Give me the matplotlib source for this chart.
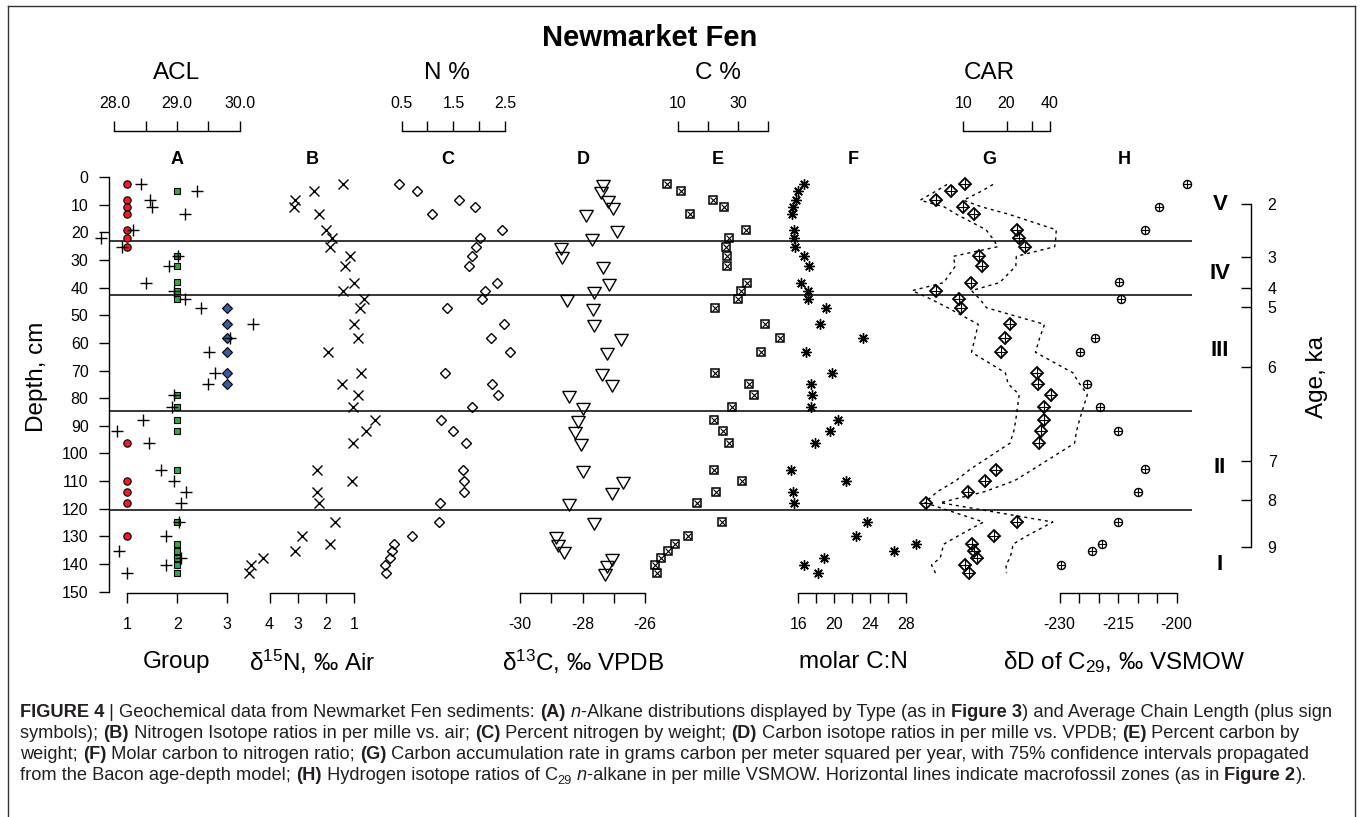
import matplotlib
matplotlib.use('Agg')
import matplotlib.pyplot as plt
import numpy as np
from matplotlib.ticker import NullLocator
from matplotlib.lines import Line2D

plt.rcParams['font.family'] = ['Liberation Sans', 'DejaVu Sans']
plt.rcParams['mathtext.fontset'] = 'custom'
plt.rcParams['mathtext.rm'] = 'Liberation Sans'
plt.rcParams['mathtext.it'] = 'Liberation Sans:italic'
plt.rcParams['mathtext.bf'] = 'Liberation Sans:bold'

# ---------------- data ----------------
depth = [2.7, 5.2, 8.4, 10.8, 13.4, 19.1, 22.2, 25.2, 28.7, 32.2, 38.2, 41.1, 44.1, 47.3,
         53.3, 58.2, 63.4, 70.8, 74.8, 78.7, 83.3, 87.8, 91.8, 96.3, 105.8, 109.8, 113.8,
         117.8, 124.8, 129.8, 132.8, 135.3, 137.8, 140.3, 143.3]

group1_depth = [2.6, 8.3, 10.7, 13.3, 19.0, 22.2, 25.2, 96.2, 109.8, 113.8, 117.8, 129.8]
group2_depth = [5.1, 28.7, 32.1, 38.0, 41.1, 44.0, 78.7, 83.3, 87.8, 91.8, 105.9, 124.8,
                132.9, 135.3, 137.7, 140.3, 143.3]
group3_depth = [47.3, 53.3, 58.3, 63.3, 70.8, 74.9]

acl_depth = [2.65, 5.1, 8.3, 10.7, 13.3, 19.0, 22.2, 25.2, 28.7, 32.1, 38.2, 41.1, 44.1,
             47.3, 53.3, 58.3, 63.3, 70.8, 74.9, 78.7, 83.3, 87.8, 91.8, 96.2, 105.9, 109.8,
             113.8, 117.8, 124.8, 129.8, 135.3, 137.7, 140.3, 143.3]
acl = [28.42, 29.32, 28.57, 28.60, 29.13, 28.29, 27.78, 28.13, 29.02, 28.88, 28.50, 28.95,
       29.13, 29.38, 30.21, 29.85, 29.51, 29.61, 29.49, 28.95, 28.92, 28.46, 28.04, 28.55,
       28.75, 28.96, 29.15, 29.06, 29.03, 28.82, 28.07, 29.07, 28.83, 28.21]

d15n = [1.42, 2.44, 3.10, 3.12, 2.25, 1.99, 1.78, 1.87, 1.17, 1.33, 1.00, 1.42, 0.67, 0.81,
        1.02, 0.86, 1.93, 0.78, 1.45, 0.86, 1.05, 0.29, 0.58, 1.05, 2.34, 1.07, 2.32, 2.25,
        1.68, 2.87, 1.87, 3.11, 4.23, 4.64, 4.72]

n_pct = [0.45, 0.80, 1.60, 1.92, 1.08, 2.44, 2.02, 1.93, 1.85, 1.79, 2.33, 2.11, 2.04, 1.38,
         2.47, 2.22, 2.58, 1.34, 2.24, 2.35, 1.86, 1.26, 1.50, 1.74, 1.69, 1.70, 1.70, 1.24,
         1.23, 0.70, 0.36, 0.32, 0.27, 0.18, 0.21]

d13c = [-27.34, -27.40, -27.18, -27.03, -27.90, -26.88, -27.68, -28.70, -28.67, -27.35,
        -27.16, -27.64, -28.50, -27.67, -27.62, -26.78, -27.23, -27.37, -27.04, -28.43,
        -28.00, -28.13, -28.24, -28.06, -27.97, -26.69, -27.04, -28.43, -27.64, -28.85,
        -28.77, -28.60, -27.06, -27.21, -27.28]

c_pct = [6.5, 11.0, 21.7, 25.2, 14.2, 32.5, 26.9, 25.9, 26.3, 26.2, 32.9, 30.9, 30.0, 22.5,
         39.0, 43.9, 37.4, 22.5, 33.6, 35.4, 28.0, 22.1, 25.1, 26.9, 21.9, 31.2, 22.7, 16.5,
         24.7, 13.4, 9.1, 6.9, 4.5, 2.6, 3.1]

cn_ratio = [16.67, 16.0, 15.74, 15.44, 15.26, 15.55, 15.52, 15.66, 16.67, 17.20, 16.30, 17.12,
            17.12, 19.06, 18.39, 23.20, 16.86, 19.73, 17.45, 17.56, 17.38, 20.47, 19.50, 17.87,
            15.15, 21.33, 15.44, 15.55, 23.64, 22.41, 29.12, 26.70, 18.91, 16.67, 18.17]

car = [10.3, 8.2, 6.5, 10.0, 11.9, 23.8, 24.6, 26.9, 12.9, 13.4, 11.3, 6.4, 9.3, 9.6, 21.1,
       19.6, 18.2, 32.4, 33.0, 40.7, 36.2, 36.2, 34.6, 33.9, 17.0, 14.1, 10.7, 5.5, 23.6, 16.4,
       11.4, 11.8, 12.5, 10.3, 10.9]
car_low = [7.7, 6.4, 5.0, 7.35, 8.9, 14.4, 16.0, 17.4, 8.5, 8.8, 7.3, 4.4, 5.9, 7.8, 12.7,
           12.05, 11.4, 19.6, 20.5, 24.5, 23.8, 23.2, 22.5, 21.1, 11.1, 8.9, 6.6, 5.4, 13.8,
           9.2, 7.3, 7.1, 6.9, 6.0, 6.4]
car_high = [16.1, 13.3, 10.0, 13.4, 20.5, 44.4, 44.0, 43.3, 23.4, 23.2, 17.9, 11.4, 13.0, 14.5,
            36.8, 34.0, 31.8, 57.9, 64.5, 73.1, 68.6, 64.5, 61.5, 59.5, 30.4, 22.8, 14.1, 6.9,
            42.0, 27.7, 22.2, 21.8, 21.1, 19.8, 20.0]

dd_depth = [2.65, 10.8, 19.2, 38.1, 44.1, 58.1, 63.3, 74.8, 83.3, 91.8, 105.7, 113.8, 124.8,
            132.7, 135.3, 140.4]
dd_c29 = [-197.4, -204.5, -208.1, -214.8, -214.2, -221.0, -224.9, -222.9, -219.7, -215.1,
          -208.1, -209.8, -215.1, -219.2, -221.8, -229.7]

zone_depths = [23.0, 42.7, 84.6, 120.4]
zone_names = ['V', 'IV', 'III', 'II', 'I']
zone_label_depths = [10.0, 34.8, 62.8, 105.0, 140.3]

age_ticks = ['2', '3', '4', '5', '6', '7', '8', '9']
age_tick_depths = [9.9, 28.8, 40.0, 46.9, 68.6, 102.7, 116.7, 133.7]

panel_letters = ['A', 'B', 'C', 'D', 'E', 'F', 'G', 'H']

# ---------------- figure ----------------
W, H = 1360, 817
fig = plt.figure(figsize=(W / 100, H / 100), dpi=100)


def fx(px):
    return px / W


def fy(py):
    return 1 - py / H


TICK_FS = 11.5
LAB_FS = 17.5
y_top, y_bot = 177.0, 591.7
edges = np.linspace(109, 1192, 9)


def make_ax(i):
    x0, x1 = edges[i], edges[i + 1]
    ax = fig.add_axes([fx(x0), fy(y_bot), (x1 - x0) / W, (y_bot - y_top) / H])
    ax.set_ylim(150, 0)
    ax.patch.set_visible(False)
    for s in ax.spines.values():
        s.set_visible(False)
        s.set_linewidth(1.0)
    ax.tick_params(left=False, labelleft=False, bottom=False, labelbottom=False,
                   top=False, labeltop=False, right=False, labelright=False)
    return ax


def bottom_axis(ax, lo, hi, ticks, labels):
    ax.spines['bottom'].set_visible(True)
    ax.spines['bottom'].set_position(('outward', 1.2))
    ax.spines['bottom'].set_bounds(lo, hi)
    ax.set_xticks(ticks, labels)
    ax.xaxis.set_minor_locator(NullLocator())
    ax.tick_params(axis='x', which='major', bottom=True, labelbottom=True, top=False,
                   labeltop=False, direction='out', length=7.2, width=1.0, pad=10,
                   labelsize=TICK_FS)


def top_axis(ax, lo, hi, ticks, labels):
    ax.spines['top'].set_visible(True)
    ax.spines['top'].set_position(('outward', 33.3))
    ax.spines['top'].set_bounds(lo, hi)
    ax.set_xticks(ticks, labels)
    ax.xaxis.set_minor_locator(NullLocator())
    ax.tick_params(axis='x', which='major', top=True, labeltop=True, bottom=False,
                   labelbottom=False, direction='out', length=7.2, width=1.0, pad=7.3,
                   labelsize=TICK_FS)


axes = [make_ax(i) for i in range(8)]
for ax in axes:
    for d in zone_depths:
        ax.axhline(d, color='black', lw=1.1, zorder=1)

# ---- Panel A
axA = axes[0]
axA2 = make_ax(0)
axA2.plot(acl, acl_depth, ls='none', marker='+', ms=8.6, mew=1.0, color='black',
          clip_on=False, zorder=2)
top_axis(axA2, 28, 30, [28, 28.5, 29, 29.5, 30], ['28.0', '', '29.0', '', '30.0'])
axA2.set_xlim(27.915, 30.075)

axA.plot([1] * len(group1_depth), group1_depth, ls='none', marker='o', ms=5.3,
         mfc='#ee1c25', mec='black', mew=0.8, clip_on=False, zorder=4)
axA.plot([2] * len(group2_depth), group2_depth, ls='none', marker='s', ms=4.9,
         mfc='#35a64a', mec='black', mew=0.8, clip_on=False, zorder=4)
axA.plot([3] * len(group3_depth), group3_depth, ls='none', marker='D', ms=4.6,
         mfc='#3a5ba0', mec='black', mew=0.8, clip_on=False, zorder=4)
bottom_axis(axA, 1, 3, [1, 2, 3], ['1', '2', '3'])
axA.set_xlim(0.64, 3.34)
axA.spines['left'].set_visible(True)
axA.spines['left'].set_bounds(0, 150)
axA.set_yticks(range(0, 151, 10))
axA.tick_params(axis='y', left=True, labelleft=True, direction='out', length=7.2,
                width=1.0, pad=7.5, labelsize=TICK_FS)
axA.set_ylim(150, 0)

# ---- Panel B
axB = axes[1]
axB.plot(d15n, depth, ls='none', marker='x', ms=6.7, mew=1.0, color='black',
         clip_on=False, zorder=3)
bottom_axis(axB, 1, 4, [4, 3, 2, 1], ['4', '3', '2', '1'])
axB.set_xlim(4.89, 0.107)

# ---- Panel C
axC = axes[2]
axC.plot(n_pct, depth, ls='none', marker='D', ms=5.4, mfc='none', mec='black', mew=1.0,
         clip_on=False, zorder=3)
top_axis(axC, 0.5, 2.5, [0.5, 1.0, 1.5, 2.0, 2.5], ['0.5', '', '1.5', '', '2.5'])
axC.set_xlim(0.081, 2.687)

# ---- Panel D
axD = axes[3]
tri = [(-1, 0.6), (1, 0.6), (0, -1.13), (-1, 0.6)]
axD.plot(d13c, depth, ls='none', marker=tri, ms=11, mfc='none', mec='black', mew=1.0,
         clip_on=False, zorder=3)
bottom_axis(axD, -30, -26, [-30, -29, -28, -27, -26], ['-30', '', '-28', '', '-26'])
axD.set_xlim(-30.16, -25.82)

# ---- Panel E
axE = axes[4]
axE.plot(c_pct, depth, ls='none', marker='s', ms=6.0, mfc='none', mec='black', mew=1.1,
         clip_on=False, zorder=3)
axE.plot(c_pct, depth, ls='none', marker='x', ms=4.6, mew=0.8, color='black',
         clip_on=False, zorder=3)
top_axis(axE, 10, 40, [10, 20, 30, 40], ['10', '', '30', ''])
axE.set_xlim(1.06, 45.76)

# ---- Panel F
axF = axes[5]
axF.plot(cn_ratio, depth, ls='none', marker=(8, 2, 0), ms=7.5, mew=1.0, color='black',
         clip_on=False, zorder=3)
bottom_axis(axF, 16, 28, [16, 18, 20, 22, 24, 26, 28], ['16', '', '20', '', '24', '', '28'])
axF.set_xlim(14.63, 29.71)

# ---- Panel G
axG = axes[6]
axG.set_xscale('log')
axG.plot(car_low, depth, ls=(0, (2.2, 2.8)), lw=1.0, color='black', clip_on=False, zorder=2)
axG.plot(car_high, depth, ls=(0, (2.2, 2.8)), lw=1.0, color='black', clip_on=False, zorder=2)
axG.plot(car, depth, ls='none', marker='D', ms=5.8, mfc='none', mec='black', mew=1.3,
         clip_on=False, zorder=3)
axG.plot(car, depth, ls='none', marker='+', ms=8.0, mew=0.8, color='black',
         clip_on=False, zorder=3)
top_axis(axG, 10, 40, [10, 20, 30, 40], ['10', '20', '', '40'])
axG.set_xlim(5.09, 44.65)

# ---- Panel H
axH = axes[7]
axH.plot(dd_c29, dd_depth, ls='none', marker='o', ms=5.8, mfc='none', mec='black', mew=1.0,
         clip_on=False, zorder=3)
axH.plot(dd_c29, dd_depth, ls='none', marker='+', ms=5.8, mew=0.8, color='black',
         clip_on=False, zorder=3)
bottom_axis(axH, -230, -200, [-230, -225, -220, -215, -210, -205, -200],
            ['-230', '', '', '-215', '', '', '-200'])
axH.set_xlim(-230.77, -196.06)

for ax in axes + [axA2]:
    ax.set_ylim(150, 0)

# ---- Age axis (right)
axR = fig.add_axes([fx(1192), fy(y_bot), (1251 - 1192) / W, (y_bot - y_top) / H])
axR.set_ylim(150, 0)
axR.patch.set_visible(False)
for k, s in axR.spines.items():
    s.set_visible(k == 'right')
    s.set_linewidth(1.0)
axR.spines['right'].set_bounds(age_tick_depths[0], age_tick_depths[-1])
axR.set_xticks([])
axR.yaxis.set_ticks_position('right')
axR.set_yticks(age_tick_depths, age_ticks)
axR.tick_params(axis='y', right=True, labelright=True, left=False, labelleft=False,
                direction='in', length=7.2, width=1.0, pad=12, labelsize=TICK_FS)

# zone labels
for name, d in zip(zone_names, zone_label_depths):
    fig.text(fx(1220), fy(y_top + d * (y_bot - y_top) / 150), name, fontsize=16,
             fontweight='bold', ha='center', va='center')

# ---- Texts
centers = (edges[:-1] + edges[1:]) / 2
for c, letter in zip(centers, panel_letters):
    fig.text(fx(c), fy(160), letter, fontsize=13, fontweight='bold', ha='center', va='center')

fig.text(fx(650), fy(37.8), 'Newmarket Fen', fontsize=21, fontweight='bold',
         ha='center', va='center')
for i, lab in [(0, 'ACL'), (2, 'N %'), (4, 'C %'), (6, 'CAR')]:
    fig.text(fx(centers[i]), fy(72.8), lab, fontsize=LAB_FS, ha='center', va='center')

bottom_labels = [(0, 'Group'),
                 (1, r'δ$^{\mathregular{15}}$N, ‰ Air'),
                 (3, r'δ$^{\mathregular{13}}$C, ‰ VPDB'),
                 (5, 'molar C:N'),
                 (7, r'δD of C$_{\mathregular{29}}$, ‰ VSMOW')]
for i, lab in bottom_labels:
    fig.text(fx(centers[i]), fy(661.7), lab, fontsize=LAB_FS, ha='center', va='center')

fig.text(fx(37.5), fy(376.7), 'Depth, cm', fontsize=LAB_FS, rotation=90,
         ha='center', va='center')
fig.text(fx(1316.7), fy(376.7), 'Age, ka', fontsize=LAB_FS, rotation=90,
         ha='center', va='center')

# frame
for xs, ys in [([8, 8], [6, 830]), ([1355, 1355], [6, 830]), ([8, 1355], [6, 6])]:
    fig.add_artist(Line2D([fx(v) for v in xs], [fy(v) for v in ys], color='#333333',
                          lw=1.0, transform=fig.transFigure))

# ---- Caption
cap_lines = [
    [("FIGURE 4", 'bold'), (" | Geochemical data from Newmarket Fen sediments: ", 'normal'),
     ("(A)", 'bold'), (" ", 'normal'), ("n", 'italic'),
     ("-Alkane distributions displayed by Type (as in ", 'normal'), ("Figure 3", 'bold'),
     (") and Average Chain Length (plus sign", 'normal')],
    [("symbols); ", 'normal'), ("(B)", 'bold'),
     (" Nitrogen Isotope ratios in per mille vs. air; ", 'normal'), ("(C)", 'bold'),
     (" Percent nitrogen by weight; ", 'normal'), ("(D)", 'bold'),
     (" Carbon isotope ratios in per mille vs. VPDB; ", 'normal'), ("(E)", 'bold'),
     (" Percent carbon by", 'normal')],
    [("weight; ", 'normal'), ("(F)", 'bold'), (" Molar carbon to nitrogen ratio; ", 'normal'),
     ("(G)", 'bold'),
     (" Carbon accumulation rate in grams carbon per meter squared per year, with 75% confidence intervals propagated", 'normal')],
    [("from the Bacon age-depth model; ", 'normal'), ("(H)", 'bold'),
     (" Hydrogen isotope ratios of C", 'normal'), ("29", 'sub'), (" ", 'normal'),
     ("n", 'italic'),
     ("-alkane in per mille VSMOW. Horizontal lines indicate macrofossil zones (as in ", 'normal'),
     ("Figure 2", 'bold'), (").", 'normal')],
]
cap_baselines = [717, 738, 759, 780]
cap_x0, cap_x1 = 20, 1338
cap_family = ['Liberation Sans']
renderer = fig.canvas.get_renderer()


def piece_kw(style, size):
    kw = dict(family=cap_family, color='#231f20')
    if style == 'bold':
        kw.update(fontweight='bold', fontsize=size)
    elif style == 'italic':
        kw.update(fontstyle='italic', fontsize=size)
    elif style == 'sub':
        kw.update(fontsize=size * 0.7)
    else:
        kw.update(fontsize=size)
    return kw


def width_px(s, kw):
    t1 = fig.text(0, 0, 'x' + s + 'x', **kw)
    t2 = fig.text(0, 0, 'xx', **kw)
    w = t1.get_window_extent(renderer).width - t2.get_window_extent(renderer).width
    t1.remove()
    t2.remove()
    return w


base = 10.0
w1 = sum(width_px(s, piece_kw(st, base)) for s, st in cap_lines[0])
cap_size = base * (cap_x1 - cap_x0) / w1

for line, yy in zip(cap_lines, cap_baselines):
    x = cap_x0
    for s, st in line:
        kw = piece_kw(st, cap_size)
        dy = 4 if st == 'sub' else 0
        fig.text(fx(x), fy(yy + dy), s, ha='left', va='baseline', **kw)
        x += width_px(s, kw)

fig.savefig('out.png', dpi=100)
